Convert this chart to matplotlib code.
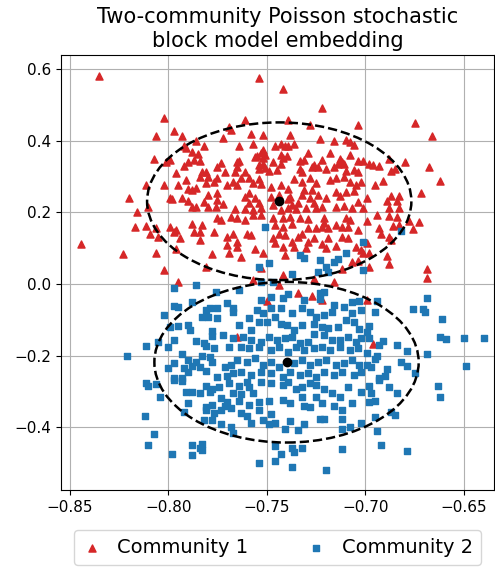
import numpy as np
import matplotlib.pyplot as plt
from matplotlib.patches import Ellipse

# embedding coordinates of the nodes, community 1
comm1 = np.array([
    (-0.835, 0.581), (-0.802, 0.464), (-0.806, 0.414), (-0.797, 0.426), (-0.793, 0.413),
    (-0.792, 0.385), (-0.791, 0.379), (-0.788, 0.368), (-0.807, 0.349), (-0.801, 0.341),
    (-0.799, 0.346), (-0.790, 0.340), (-0.792, 0.330), (-0.787, 0.346), (-0.796, 0.309),
    (-0.811, 0.276), (-0.802, 0.276), (-0.795, 0.276), (-0.791, 0.291), (-0.790, 0.265),
    (-0.788, 0.262), (-0.820, 0.241), (-0.799, 0.239), (-0.798, 0.236), (-0.793, 0.239),
    (-0.790, 0.231), (-0.788, 0.214), (-0.816, 0.201), (-0.810, 0.214), (-0.817, 0.160),
    (-0.811, 0.163), (-0.806, 0.157), (-0.809, 0.139), (-0.805, 0.131), (-0.799, 0.158),
    (-0.797, 0.144), (-0.796, 0.151), (-0.794, 0.128), (-0.788, 0.167), (-0.787, 0.144),
    (-0.844, 0.111), (-0.823, 0.085), (-0.806, 0.087), (-0.796, 0.098), (-0.802, 0.040),
    (-0.795, 0.006),
    (-0.754, 0.574), (-0.742, 0.543), (-0.761, 0.457), (-0.739, 0.457), (-0.728, 0.444),
    (-0.769, 0.438), (-0.768, 0.429), (-0.758, 0.420), (-0.752, 0.416), (-0.738, 0.416),
    (-0.772, 0.407), (-0.782, 0.386), (-0.764, 0.386), (-0.757, 0.391), (-0.746, 0.386),
    (-0.743, 0.390), (-0.741, 0.386), (-0.739, 0.385), (-0.736, 0.390), (-0.786, 0.399),
    (-0.785, 0.362), (-0.784, 0.343), (-0.756, 0.355), (-0.755, 0.358), (-0.753, 0.367),
    (-0.752, 0.374), (-0.752, 0.352), (-0.751, 0.360), (-0.743, 0.360), (-0.742, 0.352),
    (-0.740, 0.356), (-0.729, 0.365), (-0.731, 0.346), (-0.733, 0.343), (-0.726, 0.332),
    (-0.727, 0.327), (-0.724, 0.327), (-0.773, 0.337), (-0.775, 0.327), (-0.765, 0.340),
    (-0.764, 0.343), (-0.765, 0.327), (-0.754, 0.332), (-0.752, 0.334), (-0.747, 0.341),
    (-0.743, 0.334), (-0.745, 0.317), (-0.749, 0.315), (-0.751, 0.323), (-0.754, 0.321),
    (-0.761, 0.313), (-0.766, 0.313), (-0.771, 0.312), (-0.783, 0.312), (-0.781, 0.313),
    (-0.733, 0.321), (-0.732, 0.312),
    (-0.722, 0.492), (-0.704, 0.444), (-0.675, 0.449), (-0.666, 0.414), (-0.723, 0.405),
    (-0.716, 0.400), (-0.710, 0.403), (-0.708, 0.397), (-0.706, 0.388), (-0.718, 0.367),
    (-0.708, 0.360), (-0.722, 0.345), (-0.713, 0.349), (-0.712, 0.341), (-0.714, 0.336),
    (-0.711, 0.334), (-0.720, 0.321), (-0.716, 0.326), (-0.710, 0.315), (-0.706, 0.317),
    (-0.704, 0.313), (-0.704, 0.343), (-0.701, 0.343), (-0.698, 0.336), (-0.696, 0.332),
    (-0.693, 0.330), (-0.688, 0.349), (-0.680, 0.341), (-0.685, 0.321), (-0.687, 0.315),
    (-0.668, 0.326),
    (-0.718, 0.290), (-0.715, 0.295), (-0.711, 0.299), (-0.708, 0.284), (-0.705, 0.276),
    (-0.702, 0.285), (-0.695, 0.276), (-0.691, 0.287), (-0.662, 0.287), (-0.672, 0.253),
    (-0.687, 0.246), (-0.683, 0.245), (-0.689, 0.232), (-0.684, 0.232), (-0.688, 0.211),
    (-0.683, 0.213), (-0.720, 0.239), (-0.715, 0.258), (-0.713, 0.246), (-0.710, 0.256),
    (-0.706, 0.259), (-0.704, 0.230), (-0.699, 0.239), (-0.707, 0.211), (-0.711, 0.218),
    (-0.715, 0.214), (-0.701, 0.213), (-0.722, 0.216), (-0.721, 0.183), (-0.721, 0.169),
    (-0.722, 0.160), (-0.719, 0.157), (-0.715, 0.165), (-0.710, 0.183), (-0.708, 0.179),
    (-0.712, 0.160), (-0.709, 0.160), (-0.704, 0.151), (-0.699, 0.176), (-0.694, 0.193),
    (-0.688, 0.191), (-0.684, 0.188), (-0.686, 0.163), (-0.693, 0.157), (-0.692, 0.139),
    (-0.688, 0.132), (-0.687, 0.123), (-0.683, 0.165), (-0.678, 0.176), (-0.673, 0.174),
    (-0.676, 0.153), (-0.719, 0.129), (-0.712, 0.132), (-0.709, 0.128), (-0.722, 0.111),
    (-0.720, 0.101), (-0.715, 0.107), (-0.705, 0.104), (-0.702, 0.095), (-0.699, 0.114),
    (-0.698, 0.088), (-0.701, 0.088), (-0.689, 0.079), (-0.707, 0.061), (-0.704, 0.064),
    (-0.688, 0.055), (-0.712, 0.042), (-0.698, 0.048), (-0.669, 0.042), (-0.669, 0.016),
    (-0.716, 0.006),
    (-0.784, 0.299), (-0.780, 0.299), (-0.786, 0.267), (-0.781, 0.281), (-0.777, 0.284),
    (-0.775, 0.295), (-0.770, 0.276), (-0.767, 0.285), (-0.765, 0.276), (-0.763, 0.295),
    (-0.759, 0.295), (-0.757, 0.281), (-0.754, 0.293), (-0.753, 0.278), (-0.748, 0.271),
    (-0.743, 0.276), (-0.739, 0.265), (-0.736, 0.293), (-0.732, 0.285), (-0.728, 0.295),
    (-0.725, 0.281), (-0.731, 0.262), (-0.727, 0.262), (-0.780, 0.248), (-0.775, 0.253),
    (-0.775, 0.234), (-0.776, 0.214), (-0.780, 0.216), (-0.782, 0.230), (-0.786, 0.216),
    (-0.772, 0.222), (-0.761, 0.244), (-0.759, 0.253), (-0.756, 0.239), (-0.759, 0.225),
    (-0.754, 0.225), (-0.748, 0.244), (-0.747, 0.220), (-0.744, 0.248), (-0.739, 0.236),
    (-0.738, 0.244), (-0.737, 0.220), (-0.734, 0.225), (-0.732, 0.248), (-0.728, 0.239),
    (-0.726, 0.225), (-0.724, 0.248), (-0.766, 0.209), (-0.761, 0.209), (-0.757, 0.206),
    (-0.753, 0.213), (-0.743, 0.206), (-0.739, 0.211), (-0.735, 0.209), (-0.730, 0.211),
    (-0.725, 0.213), (-0.775, 0.183), (-0.773, 0.179), (-0.768, 0.188), (-0.765, 0.183),
    (-0.761, 0.179), (-0.757, 0.193), (-0.753, 0.194), (-0.747, 0.183), (-0.742, 0.183),
    (-0.738, 0.188), (-0.733, 0.185), (-0.729, 0.181), (-0.746, 0.165), (-0.742, 0.160),
    (-0.737, 0.167), (-0.729, 0.157), (-0.725, 0.157), (-0.783, 0.165), (-0.784, 0.146),
    (-0.784, 0.123), (-0.777, 0.146), (-0.770, 0.132), (-0.767, 0.141), (-0.760, 0.141),
    (-0.758, 0.137), (-0.765, 0.118), (-0.770, 0.109), (-0.765, 0.104), (-0.756, 0.098),
    (-0.752, 0.086), (-0.747, 0.128), (-0.744, 0.141), (-0.741, 0.137), (-0.737, 0.118),
    (-0.734, 0.132), (-0.732, 0.141), (-0.729, 0.118), (-0.726, 0.128), (-0.746, 0.114),
    (-0.742, 0.104), (-0.736, 0.104), (-0.730, 0.100), (-0.741, 0.081), (-0.778, 0.083),
    (-0.769, 0.086), (-0.763, 0.076), (-0.781, 0.048), (-0.753, 0.044), (-0.742, 0.025),
    (-0.726, 0.014),
    (-0.757, 0.011), (-0.744, -0.003), (-0.734, -0.026), (-0.727, -0.033), (-0.722, -0.045),
    (-0.750, -0.047), (-0.765, -0.147), (-0.699, -0.045), (-0.696, -0.168),
])

# embedding coordinates of the nodes, community 2
comm2 = np.array([
    (-0.751, 0.160), (-0.733, 0.081), (-0.731, 0.072), (-0.749, 0.058), (-0.754, 0.048),
    (-0.737, 0.029), (-0.724, 0.034), (-0.753, 0.006), (-0.747, 0.006),
    (-0.682, 0.148), (-0.701, 0.118), (-0.710, 0.086), (-0.714, 0.070), (-0.716, 0.061),
    (-0.723, 0.067), (-0.720, 0.048), (-0.719, 0.034), (-0.701, 0.039),
    (-0.797, -0.010), (-0.786, -0.003), (-0.776, -0.023), (-0.788, -0.049), (-0.797, -0.061),
    (-0.795, -0.063), (-0.781, -0.073), (-0.779, -0.068), (-0.775, -0.068), (-0.770, -0.054),
    (-0.767, -0.068), (-0.783, -0.091), (-0.780, -0.091), (-0.775, -0.094), (-0.802, -0.086),
    (-0.767, -0.079), (-0.795, -0.116), (-0.799, -0.119), (-0.790, -0.114), (-0.789, -0.128),
    (-0.778, -0.131), (-0.778, -0.144), (-0.772, -0.142), (-0.767, -0.151), (-0.797, -0.156),
    (-0.805, -0.161), (-0.786, -0.159), (-0.782, -0.165), (-0.781, -0.172), (-0.811, -0.173),
    (-0.800, -0.175), (-0.769, -0.175), (-0.777, -0.178), (-0.821, -0.200), (-0.793, -0.196),
    (-0.783, -0.201), (-0.779, -0.203), (-0.790, -0.212), (-0.786, -0.217), (-0.778, -0.218),
    (-0.797, -0.221), (-0.792, -0.234), (-0.788, -0.228), (-0.784, -0.231), (-0.781, -0.243),
    (-0.771, -0.231), (-0.768, -0.226), (-0.800, -0.235), (-0.790, -0.245), (-0.797, -0.261),
    (-0.775, -0.259), (-0.770, -0.256), (-0.767, -0.249), (-0.793, -0.263),
    (-0.764, -0.017), (-0.753, -0.045), (-0.748, -0.035), (-0.742, -0.040), (-0.739, -0.029),
    (-0.731, -0.045), (-0.723, -0.026), (-0.721, -0.023), (-0.723, -0.042), (-0.716, -0.059),
    (-0.707, -0.051), (-0.703, -0.047), (-0.759, -0.096), (-0.755, -0.073), (-0.752, -0.082),
    (-0.748, -0.068), (-0.743, -0.068), (-0.737, -0.082), (-0.732, -0.068), (-0.728, -0.077),
    (-0.725, -0.091), (-0.721, -0.086), (-0.717, -0.077), (-0.711, -0.063), (-0.707, -0.082),
    (-0.702, -0.073), (-0.764, -0.114), (-0.758, -0.128), (-0.754, -0.105), (-0.750, -0.105),
    (-0.746, -0.091), (-0.743, -0.110), (-0.740, -0.114), (-0.736, -0.128), (-0.732, -0.114),
    (-0.726, -0.110), (-0.722, -0.119), (-0.719, -0.122), (-0.714, -0.119), (-0.710, -0.100),
    (-0.706, -0.105), (-0.703, -0.124), (-0.762, -0.147), (-0.758, -0.156), (-0.753, -0.161),
    (-0.749, -0.147), (-0.745, -0.156), (-0.741, -0.151), (-0.737, -0.147), (-0.733, -0.165),
    (-0.729, -0.161), (-0.726, -0.138), (-0.721, -0.142), (-0.717, -0.156), (-0.713, -0.156),
    (-0.709, -0.147), (-0.705, -0.161), (-0.702, -0.151), (-0.763, -0.175), (-0.759, -0.179),
    (-0.754, -0.175), (-0.748, -0.184), (-0.744, -0.175), (-0.739, -0.189), (-0.735, -0.175),
    (-0.731, -0.184), (-0.726, -0.179), (-0.722, -0.175), (-0.718, -0.184), (-0.713, -0.175),
    (-0.708, -0.184), (-0.704, -0.179), (-0.765, -0.212), (-0.760, -0.217), (-0.756, -0.207),
    (-0.752, -0.226), (-0.748, -0.217), (-0.744, -0.231), (-0.736, -0.221), (-0.732, -0.212),
    (-0.728, -0.226), (-0.724, -0.217), (-0.720, -0.212), (-0.715, -0.226), (-0.711, -0.221),
    (-0.707, -0.212), (-0.703, -0.226), (-0.763, -0.245), (-0.758, -0.254), (-0.753, -0.245),
    (-0.748, -0.249), (-0.742, -0.259), (-0.738, -0.245), (-0.733, -0.254), (-0.729, -0.249),
    (-0.725, -0.259), (-0.721, -0.245), (-0.716, -0.254), (-0.712, -0.245), (-0.706, -0.254),
    (-0.702, -0.245),
    (-0.694, -0.047), (-0.669, -0.038), (-0.676, -0.070), (-0.671, -0.070), (-0.670, -0.079),
    (-0.695, -0.079), (-0.661, -0.098), (-0.698, -0.116), (-0.699, -0.133), (-0.698, -0.151),
    (-0.662, -0.149), (-0.659, -0.153), (-0.650, -0.151), (-0.640, -0.150), (-0.691, -0.159),
    (-0.693, -0.170), (-0.684, -0.170), (-0.699, -0.191), (-0.694, -0.200), (-0.695, -0.210),
    (-0.679, -0.187), (-0.669, -0.195), (-0.682, -0.218), (-0.679, -0.228), (-0.699, -0.226),
    (-0.697, -0.231), (-0.689, -0.238), (-0.649, -0.229), (-0.675, -0.249), (-0.693, -0.261),
    (-0.690, -0.256),
    (-0.811, -0.277), (-0.810, -0.285), (-0.806, -0.279), (-0.804, -0.314), (-0.797, -0.268),
    (-0.793, -0.270), (-0.791, -0.300), (-0.788, -0.300), (-0.784, -0.303), (-0.781, -0.285),
    (-0.778, -0.294), (-0.779, -0.300), (-0.774, -0.287), (-0.769, -0.277), (-0.790, -0.331),
    (-0.781, -0.342), (-0.778, -0.338), (-0.781, -0.350), (-0.773, -0.319), (-0.770, -0.328),
    (-0.771, -0.340), (-0.773, -0.350), (-0.768, -0.347), (-0.767, -0.305), (-0.777, -0.361),
    (-0.792, -0.358), (-0.812, -0.368), (-0.782, -0.379), (-0.778, -0.379), (-0.773, -0.389),
    (-0.768, -0.400), (-0.767, -0.415), (-0.807, -0.419), (-0.810, -0.449), (-0.788, -0.449),
    (-0.783, -0.446), (-0.784, -0.458), (-0.783, -0.463), (-0.798, -0.474), (-0.788, -0.477),
    (-0.764, -0.285), (-0.760, -0.273), (-0.759, -0.287), (-0.763, -0.307), (-0.757, -0.303),
    (-0.753, -0.273), (-0.748, -0.277), (-0.742, -0.282), (-0.739, -0.273), (-0.735, -0.294),
    (-0.732, -0.287), (-0.728, -0.277), (-0.725, -0.282), (-0.721, -0.294), (-0.717, -0.305),
    (-0.713, -0.314), (-0.709, -0.287), (-0.702, -0.300), (-0.764, -0.326), (-0.759, -0.338),
    (-0.754, -0.328), (-0.749, -0.326), (-0.742, -0.322), (-0.738, -0.331), (-0.732, -0.314),
    (-0.731, -0.340), (-0.728, -0.344), (-0.725, -0.314), (-0.722, -0.331), (-0.716, -0.340),
    (-0.712, -0.350), (-0.707, -0.331), (-0.763, -0.359), (-0.760, -0.368), (-0.754, -0.352),
    (-0.752, -0.379), (-0.748, -0.363), (-0.749, -0.389), (-0.746, -0.387), (-0.758, -0.387),
    (-0.738, -0.381), (-0.731, -0.391), (-0.723, -0.377), (-0.721, -0.377), (-0.712, -0.377),
    (-0.708, -0.398), (-0.702, -0.387), (-0.741, -0.403), (-0.734, -0.407), (-0.712, -0.405),
    (-0.746, -0.452), (-0.743, -0.474), (-0.737, -0.458), (-0.736, -0.468), (-0.732, -0.458),
    (-0.712, -0.461), (-0.746, -0.494), (-0.754, -0.499), (-0.737, -0.510), (-0.720, -0.519),
    (-0.698, -0.285), (-0.697, -0.305), (-0.698, -0.328), (-0.695, -0.326), (-0.693, -0.268),
    (-0.688, -0.288), (-0.684, -0.305), (-0.687, -0.356), (-0.685, -0.365), (-0.695, -0.372),
    (-0.663, -0.285), (-0.662, -0.316), (-0.694, -0.410), (-0.692, -0.449), (-0.679, -0.465),
])

# community means and the spread of each cluster (full ellipse axes)
centers = np.array([(-0.7437, 0.231), (-0.7400, -0.218)])
ell_width = [0.134, 0.134]
ell_height = [0.440, 0.448]

fig = plt.figure(figsize=(4.95, 5.7), dpi=100)
ax = fig.add_axes([0.123, 0.140, 0.875, 0.7635])

ax.scatter(comm1[:, 0], comm1[:, 1], marker="^", s=26, color="tab:red",
           label="Community 1", zorder=2)
ax.scatter(comm2[:, 0], comm2[:, 1], marker="s", s=20, color="tab:blue",
           label="Community 2", zorder=2)

for (cx, cy), w, h in zip(centers, ell_width, ell_height):
    ax.add_patch(Ellipse((cx, cy), w, h, fill=False, edgecolor="black",
                         linestyle="--", linewidth=1.8, zorder=3))
ax.scatter(centers[:, 0], centers[:, 1], s=36, color="black", zorder=4)

ax.set_xlim(-0.8544, -0.6348)
ax.set_ylim(-0.575, 0.639)
ax.set_xticks([-0.85, -0.80, -0.75, -0.70, -0.65])
ax.set_yticks([-0.4, -0.2, 0.0, 0.2, 0.4, 0.6])
ax.tick_params(labelsize=11)
ax.grid(True)
ax.set_axisbelow(True)

ax.set_title("Two-community Poisson stochastic\nblock model embedding", fontsize=15)
ax.legend(loc="upper center", bbox_to_anchor=(0.5, -0.07), ncol=2, fontsize=14,
          handlelength=1.0, columnspacing=3.0)

plt.savefig("out.png", dpi=100)
